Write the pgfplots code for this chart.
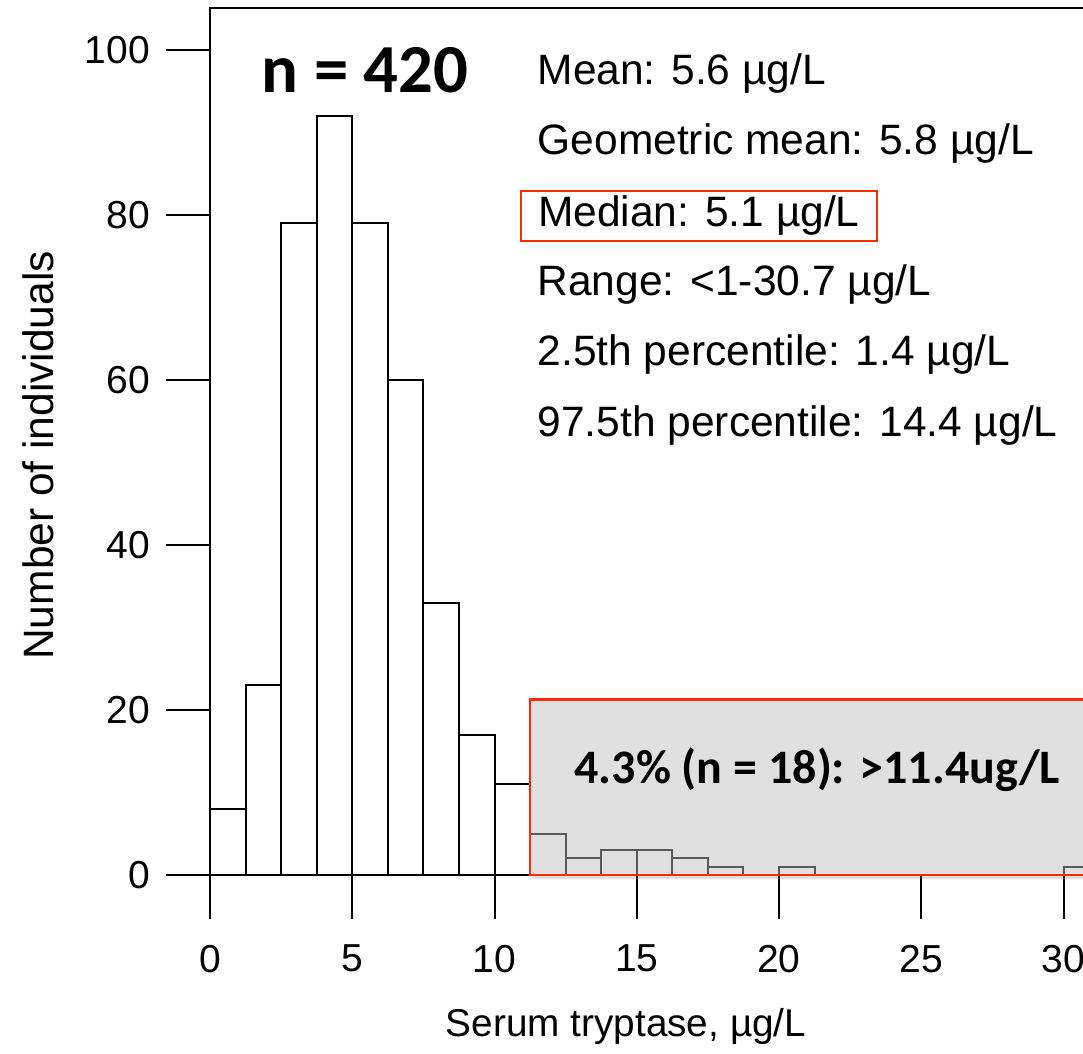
\documentclass[border=0pt]{standalone}
\usepackage{fontspec}
\setmainfont{Liberation Sans}
\newfontfamily\calfont{Carlito}
\usepackage{pgfplots}
\pgfplotsset{compat=1.18}
\usetikzlibrary{shadows}
\definecolor{boxred}{HTML}{FF2A00}
\definecolor{boxgray}{HTML}{E0E0E0}
\begin{document}
\begin{tikzpicture}
\begin{axis}[
  scale only axis,
  width=364.16pt, height=346.8pt,
  xmin=0, xmax=32, ymin=0, ymax=105.1,
  clip=false,
  xtick={0,5,10,15,20,25,30},
  ytick={0,20,40,60,80,100},
  xtick pos=lower, ytick pos=left,
  tick align=outside,
  major tick length=17.5pt,
  tick style={black, line width=0.8pt},
  axis line style={black, line width=0.7pt},
  /pgf/number format/assume math mode=true,
  tick label style={font=\fontsize{15.6}{18}\selectfont},
  xticklabel style={yshift=-7pt},
  yticklabel style={xshift=-3pt},
  xlabel={Serum tryptase, µg/L},
  ylabel={Number of individuals},
  xlabel style={font=\fontsize{15.5}{18}\selectfont, at={(axis description cs:0.457,0)}, anchor=center, yshift=-60.5pt},
  ylabel style={font=\fontsize{17}{20}\selectfont, at={(axis description cs:0,0.484)}, anchor=center, yshift=68.8pt},
]
% bars below 11.25
\addplot[ybar interval, draw=black, fill=white, line width=0.8pt] coordinates {
 (0,8) (1.25,23) (2.5,79) (3.75,92) (5,79) (6.25,60) (7.5,33) (8.75,17) (10,11) (11.25,0)
};
% shaded box
\fill[boxgray, drop shadow={shadow xshift=1pt, shadow yshift=-1.5pt, opacity=0.25}] (axis cs:11.25,0) rectangle (axis cs:32,21.3);
\addplot[ybar interval, draw=black!65, fill=none, line width=0.8pt] coordinates {
 (11.25,5) (12.5,2) (13.75,3) (15,3) (16.25,2) (17.5,1) (18.75,0)
};
\addplot[ybar interval, draw=black!65, fill=none, line width=0.8pt] coordinates {
 (20,1) (21.25,0)
};
\addplot[ybar interval, draw=black!65, fill=none, line width=0.8pt] coordinates {
 (30,1) (31.25,0)
};
\draw[boxred, line width=1.1pt] (axis cs:11.25,0) rectangle (axis cs:32,21.3);
\node[font=\calfont\bfseries\fontsize{19.2}{23}\selectfont] at (axis cs:21.35,12.7) {4.3\% (n = 18): >11.4ug/L};
\node[font=\calfont\bfseries\fontsize{27.5}{32}\selectfont] at (axis cs:5.45,97.5) {n = 420};
% statistics
\begin{scope}[every node/.style={anchor=west, font=\fontsize{17}{20}\selectfont, text height=12.4pt, text depth=3.6pt, inner sep=0pt}]
\node at (axis cs:11.5,97.2) {Mean: 5.6 µg/L};
\node at (axis cs:11.5,88.7) {Geometric mean: 5.8 µg/L};
\node[draw=boxred, line width=0.9pt, inner xsep=6.8pt, minimum height=20pt] at (axis cs:10.9,79.9) {Median: 5.1 µg/L};
\node at (axis cs:11.5,71.6) {Range: <1-30.7 µg/L};
\node at (axis cs:11.5,63.1) {2.5th percentile: 1.4 µg/L};
\node at (axis cs:11.5,54.5) {97.5th percentile: 14.4 µg/L};
\end{scope}
\end{axis}
\pgfresetboundingbox
\path (-84pt,-71.6pt) rectangle (349.2pt,350pt);
\end{tikzpicture}
\end{document}
